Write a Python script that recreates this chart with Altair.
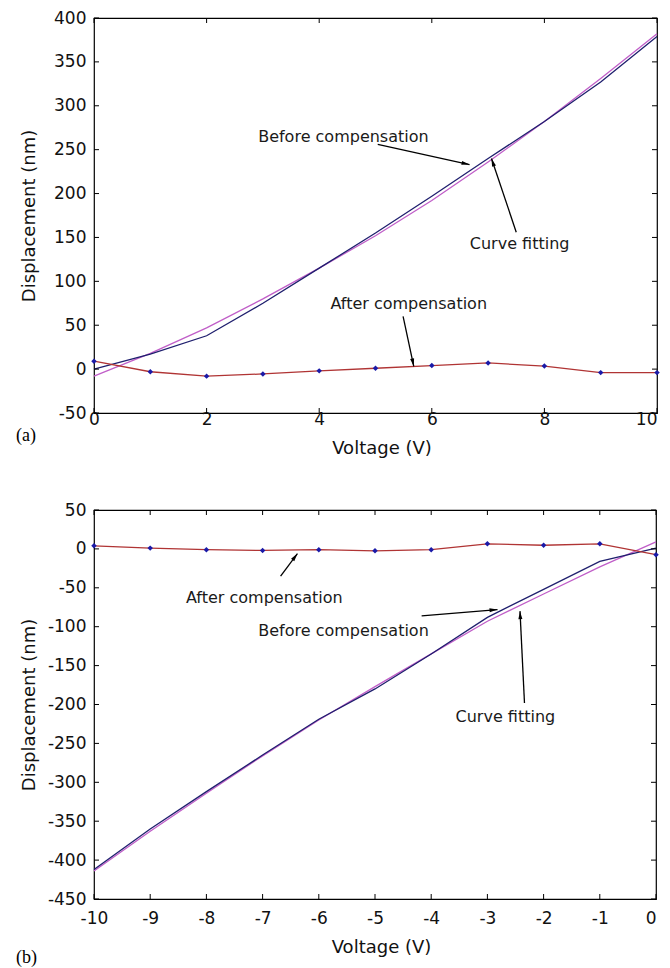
import math
import altair as alt
import pandas as pd

# ---------------- data ----------------
volt_a = [0, 1, 2, 3, 4, 5, 6, 7, 8, 9, 10]
before_a = [0, 17, 38, 75, 115, 155, 197, 240, 282, 327, 379]
fit_a = [-8, 18, 47, 80, 115, 152, 192, 236, 282, 331, 382]
after_a = [9, -3, -8, -5.5, -2, 1, 4, 7, 3.5, -4, -4]

volt_b = [-10, -9, -8, -7, -6, -5, -4, -3, -2, -1, 0]
before_b = [-412, -360, -312, -265, -219, -180, -135, -88, -52, -16, 1]
fit_b = [-414, -363, -314, -266, -220, -177, -135, -93, -58, -23, 9]
after_b = [4, 1, -1, -2, -1, -2.5, -1, 6.5, 4.7, 6.5, -7.5]

xticks_a = [0, 2, 4, 6, 8, 10]
yticks_a = [-50, 0, 50, 100, 150, 200, 250, 300, 350, 400]
xticks_b = [-10, -9, -8, -7, -6, -5, -4, -3, -2, -1, 0]
yticks_b = [-450, -400, -350, -300, -250, -200, -150, -100, -50, 0, 50]

# annotations (data coordinates)
ann_text_a = ["Before compensation", "Curve fitting", "After compensation"]
ann_x_a = [4.43, 7.56, 5.59]
ann_y_a = [265, 142, 74]
arr_a = [  # (x_tail, y_tail, x_head, y_head)
    (5.04, 256, 6.67, 233),
    (7.50, 156, 7.06, 240),
    (5.49, 60, 5.68, 3),
]

ann_text_b = ["After compensation", "Before compensation", "Curve fitting"]
ann_x_b = [-6.97, -5.56, -2.68]
ann_y_b = [-63, -106, -216]
arr_b = [
    (-6.68, -35, -6.38, -6),
    (-4.17, -86, -2.82, -78),
    (-2.34, -198, -2.42, -80),
]

NAVY = "#1f1f6e"
MAGENTA = "#c05ec8"
RED = "#b03434"
MARK = "#1a1aa8"
FONT = "DejaVu Sans"
ARROW_PATH = "M0,0L-0.5,2L0.5,2Z"


def panel(volt, before, fit, after, xticks, yticks, xdom, ydom, W, H,
          texts, tx, ty, arrows, tag, tag_y, xlabpad, xtitlepad):
    xs = alt.Scale(domain=xdom, nice=False, zero=False)
    ys = alt.Scale(domain=ydom, nice=False, zero=False)
    xaxis = alt.Axis(
        values=xticks, title="Voltage (V)", labelExpr="'' + datum.value",
        labelFlush=False, labelOverlap=False, labelPadding=xlabpad,
        titlePadding=xtitlepad, titleX=W / 2 + 6,
        labelAlign={"condition": {"test": f"datum.value == {xdom[1]}", "value": "right"},
                    "value": "center"},
    )
    yaxis = alt.Axis(
        values=yticks, title="Displacement (nm)", labelExpr="'' + datum.value",
        labelFlush=False, labelOverlap=False, labelPadding=8,
        titleX=-65, titleBaseline="middle",
    )

    def X(f):
        return alt.X(f, scale=xs, axis=xaxis)

    def Y(f):
        return alt.Y(f, scale=ys, axis=yaxis)

    df = pd.DataFrame({"V": volt, "before": before, "fit": fit, "after": after})

    fit_line = alt.Chart(df).mark_line(color=MAGENTA, strokeWidth=1.3).encode(
        x=X("V:Q"), y=Y("fit:Q"))
    before_line = alt.Chart(df).mark_line(color=NAVY, strokeWidth=1.3).encode(
        x=X("V:Q"), y=Y("before:Q"))
    after_line = alt.Chart(df).mark_line(color=RED, strokeWidth=1.3).encode(
        x=X("V:Q"), y=Y("after:Q"))
    after_pts = alt.Chart(df).mark_point(
        shape="diamond", filled=True, color=MARK, size=30, opacity=1
    ).encode(x=X("V:Q"), y=Y("after:Q"))

    # inward ticks on all four sides
    tx_df = pd.DataFrame({"V": xticks})
    ty_df = pd.DataFrame({"t": yticks})
    tl = 5
    bottom_ticks = alt.Chart(tx_df).mark_rule(color="black", strokeWidth=1).encode(
        x=X("V:Q"), y=alt.value(H - tl), y2=alt.value(H))
    top_ticks = alt.Chart(tx_df).mark_rule(color="black", strokeWidth=1).encode(
        x=X("V:Q"), y=alt.value(0), y2=alt.value(tl))
    left_ticks = alt.Chart(ty_df).mark_rule(color="black", strokeWidth=1).encode(
        y=Y("t:Q"), x=alt.value(0), x2=alt.value(tl))
    right_ticks = alt.Chart(ty_df).mark_rule(color="black", strokeWidth=1).encode(
        y=Y("t:Q"), x=alt.value(W - tl), x2=alt.value(W))

    # annotation texts
    ann_df = pd.DataFrame({"V": tx, "y": ty, "label": texts})
    ann = alt.Chart(ann_df).mark_text(
        font=FONT, fontSize=16, color="#1a1a1a", align="center", baseline="middle"
    ).encode(x=X("V:Q"), y=Y("y:Q"), text="label:N")

    # arrows
    sx = W / (xdom[1] - xdom[0])
    sy = H / (ydom[1] - ydom[0])
    rows = []
    for (x1, y1, x2, y2) in arrows:
        dx = (x2 - x1) * sx
        dy = -(y2 - y1) * sy
        ang = math.degrees(math.atan2(dx, -dy)) % 360
        rows.append({"V": x1, "y1": y1, "x2": x2, "y2": y2, "ang": ang})
    arr_df = pd.DataFrame(rows)
    shafts = alt.Chart(arr_df).mark_rule(color="black", strokeWidth=1.3).encode(
        x=X("V:Q"), y=Y("y1:Q"), x2="x2:Q", y2="y2:Q")
    heads = alt.Chart(arr_df).mark_point(
        shape=ARROW_PATH, filled=True, color="black", size=64, opacity=1
    ).encode(x=X("x2:Q"), y=Y("y2:Q"), angle=alt.Angle("ang:Q", scale=None))

    tag_df = pd.DataFrame({"label": [tag]})
    tag_mark = alt.Chart(tag_df).mark_text(
        font="Liberation Serif", fontSize=18, color="black", align="left",
        baseline="middle"
    ).encode(x=alt.value(-78), y=alt.value(tag_y), text="label:N")

    return alt.layer(
        fit_line, before_line, after_line, after_pts,
        bottom_ticks, top_ticks, left_ticks, right_ticks,
        shafts, heads, ann, tag_mark,
    ).properties(width=W, height=H)


top = panel(volt_a, before_a, fit_a, after_a, xticks_a, yticks_a, [0, 10], [-50, 400],
            563, 395, ann_text_a, ann_x_a, ann_y_a, arr_a, "(a)", 418, -2, 12)
bottom = panel(volt_b, before_b, fit_b, after_b, xticks_b, yticks_b, [-10, 0], [-450, 50],
               562, 389, ann_text_b, ann_x_b, ann_y_b, arr_b, "(b)", 448, 11, 12)

chart = alt.vconcat(top, bottom, spacing=42).properties(
    padding={"left": 7, "top": 0, "right": 0, "bottom": 0}
).configure_view(
    stroke="black", strokeWidth=1.2
).configure_axis(
    grid=False, domain=False, ticks=False, tickSize=0,
    labelFont=FONT, labelFontSize=17, labelColor="#111",
    titleFont=FONT, titleFontSize=18, titleFontWeight="normal", titleColor="#111",
)

chart.save("out.html", embed_options={"renderer": "svg", "actions": False})
